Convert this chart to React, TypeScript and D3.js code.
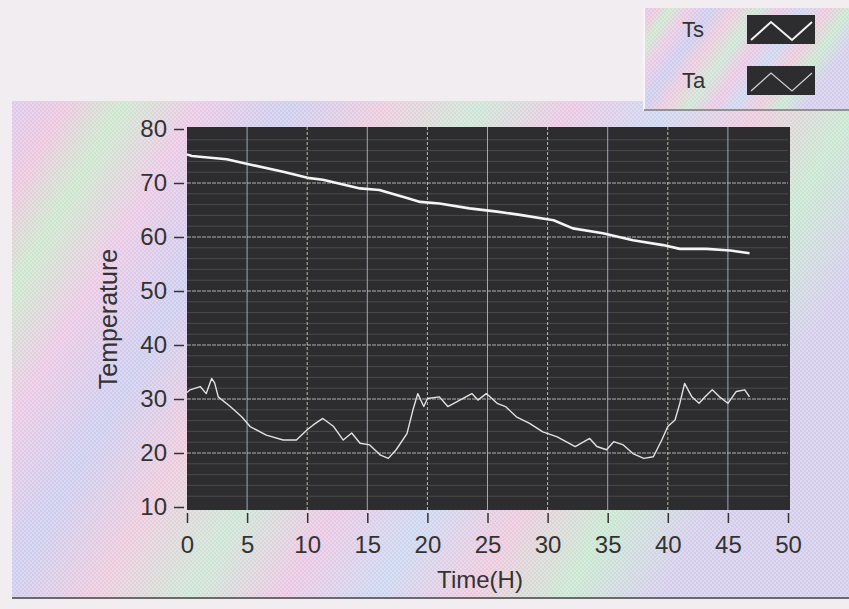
import { useEffect, useRef } from "react";
import * as d3 from "d3";

// Ts: surface temperature
const tsTime = [0, 0.4, 3.3, 5.5, 8, 10.2, 11.3, 14.4, 16, 18.3, 19.4, 21, 23.5, 25.8, 27.7, 30.5, 32.1, 34.6, 37.1, 39.6, 41, 43.2, 45.2, 46.8];
const tsValue = [75.3, 75, 74.4, 73.3, 72.1, 70.9, 70.6, 69, 68.7, 67.2, 66.5, 66.2, 65.3, 64.7, 64.1, 63.1, 61.6, 60.7, 59.4, 58.5, 57.8, 57.8, 57.5, 57];

// Ta: ambient temperature
const taTime = [0, 0.25, 1.1, 1.6, 2.05, 2.3, 2.6, 3.6, 4.55, 5.25, 6.6, 8, 9.1, 10, 10.5, 11.3, 12.2, 13, 13.7, 14.4, 15.2, 16.1, 16.75, 17.4, 18.3, 18.8, 19.2, 19.7, 20, 21, 21.7, 22.7, 23.7, 24.2, 24.9, 25.8, 26.5, 27.4, 28.5, 29.6, 30.8, 32.3, 33.5, 34.1, 34.9, 35.5, 36.3, 37.1, 38, 38.8, 39.5, 40, 40.6, 41, 41.4, 42, 42.6, 43.1, 43.7, 44.3, 45, 45.7, 46.4, 46.8];
const taValue = [31.2, 31.7, 32.3, 31, 33.8, 33, 30.4, 28.6, 26.7, 24.9, 23.3, 22.4, 22.4, 24.3, 25.2, 26.4, 24.9, 22.4, 23.7, 21.8, 21.5, 19.6, 19, 20.6, 23.6, 28, 31, 28.6, 30.1, 30.4, 28.6, 29.8, 31, 29.8, 31, 29.2, 28.6, 26.7, 25.5, 23.9, 23, 21.2, 22.7, 21.2, 20.6, 22.1, 21.5, 19.9, 19, 19.3, 22.4, 24.9, 26.1, 29.2, 32.9, 30.4, 29.2, 30.4, 31.7, 30.4, 29.2, 31.4, 31.7, 30.4];

const xTicks = [0, 5, 10, 15, 20, 25, 30, 35, 40, 45, 50];
const yTicks = [10, 20, 30, 40, 50, 60, 70, 80];
const seriesNames = ["Ts", "Ta"];

const W = 849;
const H = 609;
const plot = { left: 187, right: 788, top: 129, bottom: 507 };
const font = "'Liberation Sans', Arial, sans-serif";

export default function App() {
  const xAxisRef = useRef<SVGGElement>(null);
  const yAxisRef = useRef<SVGGElement>(null);

  const x = d3.scaleLinear().domain([0, 50]).range([plot.left, plot.right]);
  const y = d3.scaleLinear().domain([10, 80]).range([plot.bottom, plot.top]);

  useEffect(() => {
    const xa = d3.select(xAxisRef.current);
    xa.selectAll("*").remove();
    xa.call(d3.axisBottom(x).tickValues(xTicks).tickSize(10).tickPadding(13).tickFormat(d3.format("d")));
    xa.select(".domain").remove();
    xa.selectAll("line").attr("stroke", "#333").attr("stroke-width", 1.5);
    xa.selectAll("text").attr("fill", "#333").style("font-size", "24px").style("font-family", font);

    const ya = d3.select(yAxisRef.current);
    ya.selectAll("*").remove();
    ya.call(d3.axisLeft(y).tickValues(yTicks).tickSize(10).tickPadding(7).tickFormat(d3.format("d")));
    ya.select(".domain").remove();
    ya.selectAll("line").attr("stroke", "#333").attr("stroke-width", 1.5);
    ya.selectAll("text").attr("fill", "#333").style("font-size", "24px").style("font-family", font);
  }, []);

  const tsData = tsTime.map((t, i) => [t, tsValue[i]] as [number, number]);
  const taData = taTime.map((t, i) => [t, taValue[i]] as [number, number]);
  const line = d3.line<[number, number]>().x((d) => x(d[0])).y((d) => y(d[1]));

  const minorY = d3.range(10, 81, 2).filter((v) => v % 10 !== 0);

  return (
    <svg width={W} height={H} style={{ position: "absolute", left: 0, top: 0 }}>
      <defs>
        <linearGradient id="pastel" x1="0" y1="0" x2="1" y2="0.35">
          <stop offset="0" stopColor="#dcc8ec" />
          <stop offset="0.06" stopColor="#ecc6de" />
          <stop offset="0.12" stopColor="#cce6cc" />
          <stop offset="0.2" stopColor="#eac8e4" />
          <stop offset="0.3" stopColor="#ccccee" />
          <stop offset="0.4" stopColor="#eccadc" />
          <stop offset="0.5" stopColor="#cce4d4" />
          <stop offset="0.6" stopColor="#eac6e2" />
          <stop offset="0.7" stopColor="#ccd6f0" />
          <stop offset="0.8" stopColor="#ecc8dc" />
          <stop offset="0.9" stopColor="#c8e6d0" />
          <stop offset="1" stopColor="#d4cceb" />
        </linearGradient>
        <pattern id="dots" width="4" height="4" patternUnits="userSpaceOnUse">
          <rect width="2" height="2" fill="#ffffff" opacity="0.25" />
          <rect x="2" y="2" width="2" height="2" fill="#ffffff" opacity="0.25" />
        </pattern>
      </defs>

      <rect width={W} height={H} fill="#f1edf1" />

      {/* panel */}
      <rect x={12} y={101} width={W - 12} height={496} fill="url(#pastel)" />
      <rect x={12} y={101} width={W - 12} height={496} fill="url(#dots)" />
      <line x1={12} x2={W} y1={598} y2={598} stroke="#6a6a6a" strokeWidth={2} />

      {/* legend */}
      <rect x={643} y={8} width={W - 643} height={102} fill="url(#pastel)" />
      <rect x={643} y={8} width={W - 643} height={102} fill="url(#dots)" />
      <line x1={644} x2={644} y1={8} y2={110} stroke="#f6f4f6" strokeWidth={2} />
      <line x1={644} x2={W} y1={110} y2={110} stroke="#7a7a7a" strokeWidth={1.5} />
      {seriesNames.map((name, i) => {
        const cy = 29 + i * 51;
        return (
          <g key={name}>
            <text x={682} y={cy + 8} fill="#333" style={{ fontSize: 22, fontFamily: font }}>
              {name}
            </text>
            <rect x={747} y={cy - 14} width={68} height={29} fill="#2d2c2e" />
            <polyline
              points={`751,${cy + 11} 771,${cy - 7} 792,${cy + 11} 812,${cy - 7}`}
              fill="none"
              stroke={i === 0 ? "#f2f2f2" : "#cfcfcf"}
              strokeWidth={i === 0 ? 2 : 1.3}
            />
          </g>
        );
      })}

      {/* plot area */}
      <rect x={plot.left} y={plot.top - 2} width={plot.right - plot.left + 2} height={plot.bottom - plot.top + 5} fill="#2d2c2e" />
      {minorY.map((v) => (
        <line key={"m" + v} x1={plot.left} x2={plot.right} y1={y(v)} y2={y(v)} stroke="#4a4a4c" strokeWidth={1} />
      ))}
      {yTicks.slice(1, -1).map((v) => (
        <line key={"h" + v} x1={plot.left} x2={plot.right} y1={y(v)} y2={y(v)} stroke="#c9c9c4" strokeWidth={1} strokeDasharray="4,1" opacity={0.85} />
      ))}
      {xTicks.slice(1, -1).map((v, i) => (
        <line
          key={"v" + v}
          x1={x(v)}
          x2={x(v)}
          y1={plot.top - 2}
          y2={plot.bottom + 3}
          stroke={i % 2 === 0 ? "#aebfd8" : "#d8d8a0"}
          strokeWidth={1}
          strokeDasharray={i % 2 === 0 ? "none" : "3,2"}
          opacity={0.85}
        />
      ))}

      <path d={line(taData) ?? ""} fill="none" stroke="#e2e2e2" strokeWidth={1.4} strokeLinejoin="round" />
      <path d={line(tsData) ?? ""} fill="none" stroke="#f4f4f4" strokeWidth={2.6} strokeLinejoin="round" />

      <g ref={xAxisRef} transform={`translate(0,${plot.bottom + 6})`} />
      <g ref={yAxisRef} transform={`translate(${plot.left - 3},0)`} />

      <text
        transform={`translate(117,${(plot.top + plot.bottom) / 2 + 1}) rotate(-90)`}
        textAnchor="middle"
        fill="#333"
        style={{ fontSize: 25, fontFamily: font }}
      >
        Temperature
      </text>
      <text x={480} y={588} textAnchor="middle" fill="#333" style={{ fontSize: 24, fontFamily: font }}>
        Time(H)
      </text>
    </svg>
  );
}
